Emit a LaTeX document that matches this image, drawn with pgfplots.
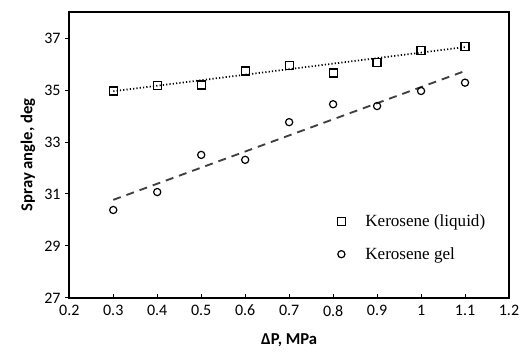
\documentclass[border=0pt]{standalone}
\usepackage{fontspec}
\setmainfont{Carlito}
\newfontfamily\serifleg{Liberation Serif}
\usepackage{pgfplots}
\pgfplotsset{compat=1.18}
\begin{document}
\begin{tikzpicture}
\begin{axis}[
  scale only axis,
  width=330pt, height=214.5pt,
  xmin=0.2, xmax=1.2, ymin=27, ymax=38,
  xtick={0.2,0.3,...,1.2},
  ytick={27,29,31,33,35,37},
  xticklabels={0.2,0.3,0.4,0.5,0.6,0.7,0.8,0.9,1,1.1,1.2},
  /pgf/number format/assume math mode=true,
  tick label style={font=\fontsize{12}{14}\selectfont},
  xticklabel style={yshift=-2pt},
  axis line style={line width=1.2pt},
  x tick style={line width=0.6pt, black},
  y tick style={line width=0.6pt, black},
  xtick align=inside, ytick align=outside,
  major tick length=3pt,
  xtick pos=bottom, ytick pos=left,
  xlabel={\textbf{ΔP, MPa}},
  ylabel={\textbf{Spray angle, deg}},
  label style={font=\fontsize{12.5}{14}\selectfont},
  xlabel style={yshift=-6pt},
  ylabel style={yshift=0pt},
  legend style={draw=none, fill=none, at={(0.6,0.31)}, anchor=north west,
    font=\serifleg\fontsize{12.8}{14}\selectfont, row sep=10pt},
  legend cell align=left,
  clip=false,
]
\addplot[only marks, mark=square, mark size=3pt, line width=0.9pt, black] coordinates {
(0.3,34.96) (0.4,35.17) (0.5,35.19) (0.6,35.73) (0.7,35.94) (0.8,35.65) (0.9,36.07) (1.0,36.51) (1.1,36.68)};
\addlegendentry{\hspace*{13pt}Kerosene (liquid)}
\addplot[only marks, mark=o, mark size=2.7pt, line width=0.9pt, black] coordinates {
(0.3,30.38) (0.4,31.07) (0.5,32.50) (0.6,32.31) (0.7,33.76) (0.8,34.45) (0.9,34.38) (1.0,34.96) (1.1,35.28)};
\addlegendentry{\hspace*{13pt}Kerosene gel}
\addplot[black, line width=1.3pt, dash pattern=on 0.9pt off 1.6pt, forget plot] coordinates {(0.3,34.95) (1.1,36.65)};
\addplot[black!75, line width=1.4pt, dash pattern=on 6pt off 4.5pt, forget plot] coordinates {(0.3,30.77) (1.1,35.73)};
\end{axis}
\pgfresetboundingbox
\path[use as bounding box] ([xshift=-52pt,yshift=-45pt]current axis.south west) rectangle ([xshift=9pt,yshift=9pt]current axis.north east);
\end{tikzpicture}
\end{document}
